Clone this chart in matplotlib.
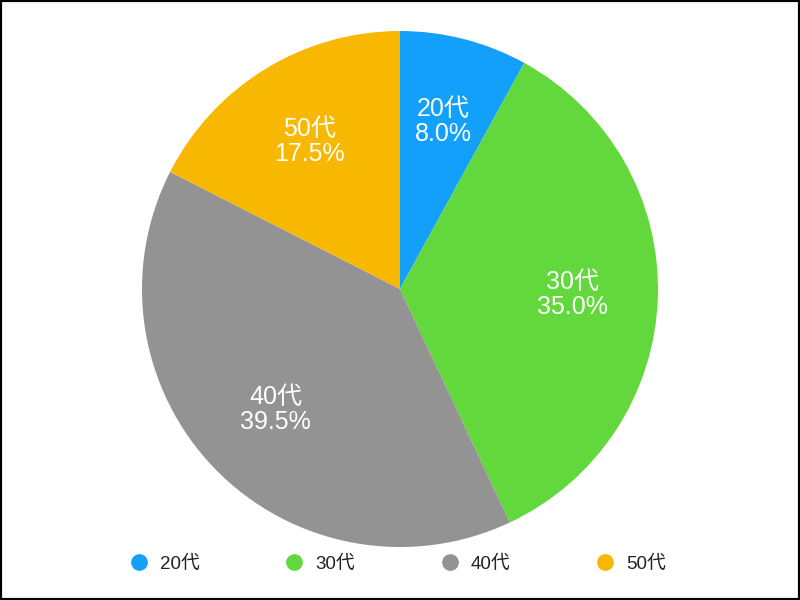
import matplotlib
matplotlib.use("Agg")
import matplotlib.pyplot as plt
from matplotlib.lines import Line2D
from matplotlib.patches import Rectangle

plt.rcParams['font.family'] = ['Liberation Sans', 'Noto Sans CJK JP', 'DejaVu Sans']

categories = ['20代', '30代', '40代', '50代']
values = [8.0, 35.0, 39.5, 17.5]
colors = ['#12a0fa', '#62d83c', '#939393', '#f8b700']

fig = plt.figure(figsize=(8, 6), dpi=100)
ax = fig.add_axes([0.1775, 0.0883, 0.645, 0.86])

labels = [f"{c}\n{v:.1f}%" for c, v in zip(categories, values)]
wedges, texts = ax.pie(values, colors=colors, startangle=90, counterclock=False,
                       labels=labels, labeldistance=0.67, radius=1.0,
                       textprops=dict(color='white', fontsize=18, ha='center',
                                      va='center', linespacing=1.05))
for t in texts:
    t.set_horizontalalignment('center')
ax.set_xlim(-1, 1)
ax.set_ylim(-1, 1)
ax.set_aspect('equal')
ax.axis('off')

handles = [Line2D([0], [0], marker='o', linestyle='none', markersize=11,
                  markerfacecolor=c, markeredgecolor=c) for c in colors]
leg = fig.legend(handles, categories, loc='center', bbox_to_anchor=(0.497, 1 - 564 / 600),
                 ncol=4, frameon=False, fontsize=13.5, handletextpad=0.62,
                 columnspacing=4.55, handlelength=1.0)
for t in leg.get_texts():
    t.set_color('#222222')

fig.add_artist(Rectangle((0, 0), 1, 1, transform=fig.transFigure, fill=False,
                         edgecolor='black', linewidth=3, clip_on=False))

fig.savefig('out.png', dpi=100)
